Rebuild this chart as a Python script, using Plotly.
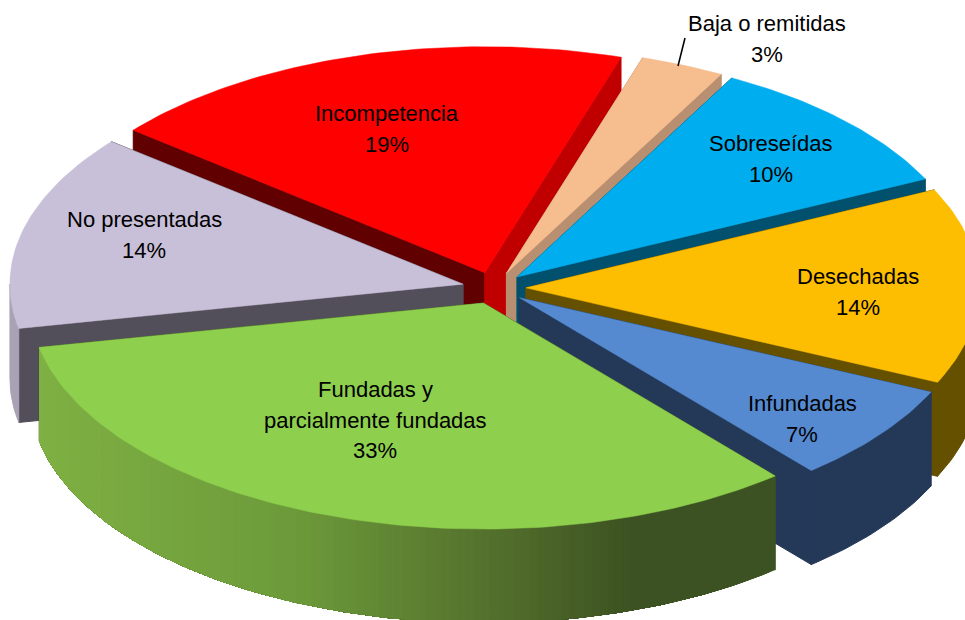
import math
import plotly.graph_objects as go

# --- data ---
CATEGORIES = ["Baja o remitidas", "Sobreseídas", "Desechadas", "Infundadas",
              "Fundadas y|parcialmente fundadas", "No presentadas", "Incompetencia"]
VALUES = [3, 10, 14, 7, 33, 14, 19]
TOP_COLORS = ["#f6bd8f", "#00aeef", "#fdbd00", "#558ad1", "#8ecf4e", "#c8bfd8", "#ff0000"]
LEFT_WALL = ["#b88f70", "#00506e", "#655000", "#243858", "#3c5222", "#534f5a", "#600000"]
RIGHT_WALL = ["#b88f70", "#00506e", "#655000", "#243858", "#3c5222", "#534f5a", "#c00000"]
OUTER_WALL = ["#b88f70", "#00506e", "#655000", "#243858", None, "#a9a2b5", "#c00000"]
PAINT_ORDER = [6, 0, 1, 5, 2, 3, 4]
LABEL_XY = [(767, 39), (771, 159), (858, 292), (802, 419), (375, 420), (144, 235), (387, 129)]

# --- projection ---
W, H = 965, 620
CX, CY = 494, 288
RX, RY = 453, 226
PULL = 32
DEPTH = 94
START = 17.5
LINE_STEP = 30.5
GRAD_X = [40, 300, 500, 635, 778]
GRAD_C = [(127, 176, 67), (108, 154, 58), (83, 111, 44), (60, 82, 34), (60, 82, 34)]


def grad(x):
    for i in range(len(GRAD_X) - 1):
        if x <= GRAD_X[i + 1]:
            t = max(0, (x - GRAD_X[i]) / (GRAD_X[i + 1] - GRAD_X[i]))
            c = [round(a + (b - a) * t) for a, b in zip(GRAD_C[i], GRAD_C[i + 1])]
            return "rgb(%d,%d,%d)" % tuple(c)
    return "rgb(%d,%d,%d)" % GRAD_C[-1]


def rim(ax, ay, deg):
    r = math.radians(deg)
    return ax + RX * math.sin(r), ay - RY * math.cos(r)


def poly(fig, pts, color, lw=1.0):
    xs = [p[0] for p in pts] + [pts[0][0]]
    ys = [p[1] for p in pts] + [pts[0][1]]
    fig.add_trace(go.Scatter(x=xs, y=ys, mode="lines", fill="toself", fillcolor=color,
                             line=dict(color=color, width=lw), hoverinfo="skip", showlegend=False))


fig = go.Figure()
total = sum(VALUES)
angles = []
a = START
for v in VALUES:
    angles.append((a, a + 360 * v / total))
    a += 360 * v / total

for i in PAINT_ORDER:
    a0, a1 = angles[i]
    m = math.radians((a0 + a1) / 2)
    ax = CX + PULL * math.sin(m)
    ay = CY - PULL * RY / RX * math.cos(m)
    n = max(4, int(a1 - a0))
    arc = [rim(ax, ay, a0 + (a1 - a0) * k / n) for k in range(n + 1)]
    # radial walls
    p0, p1 = arc[0], arc[-1]
    poly(fig, [(ax, ay), p0, (p0[0], p0[1] + DEPTH), (ax, ay + DEPTH)], LEFT_WALL[i])
    poly(fig, [(ax, ay), p1, (p1[0], p1[1] + DEPTH), (ax, ay + DEPTH)], RIGHT_WALL[i])
    # outer wall (front half only)
    f0, f1 = max(a0, 90), min(a1, 270)
    if f1 > f0:
        steps = max(2, int(f1 - f0))
        front = [rim(ax, ay, f0 + (f1 - f0) * k / steps) for k in range(steps + 1)]
        lower = [(x, y + DEPTH) for x, y in front]
        if OUTER_WALL[i]:
            poly(fig, front + lower[::-1], OUTER_WALL[i])
        else:
            # gradient: every band runs to the end of the arc, the next one paints over it
            for k in range(steps):
                poly(fig, front[k:] + lower[k:][::-1], grad(front[k][0]), lw=0)
    # top face
    poly(fig, [(ax, ay)] + arc, TOP_COLORS[i], lw=0.5)

# leader line for the small slice
fig.add_trace(go.Scatter(x=[685, 678], y=[38, 66], mode="lines", line=dict(color="#000", width=1.6),
                         hoverinfo="skip", showlegend=False))

for name, v, (lx, ly) in zip(CATEGORIES, VALUES, LABEL_XY):
    lines = name.split("|") + [f"{v}%"]
    for j, line in enumerate(lines):
        fig.add_annotation(x=lx, y=ly + (j - (len(lines) - 1) / 2) * LINE_STEP, xref="x", yref="y",
                           text=line, showarrow=False,
                           font=dict(family="Liberation Sans", size=22, color="#000"),
                           align="center", xanchor="center", yanchor="middle")

fig.update_layout(width=W, height=H, margin=dict(l=0, r=0, t=0, b=0), autosize=False,
                  paper_bgcolor="white", plot_bgcolor="white", showlegend=False,
                  xaxis=dict(range=[0, W], visible=False, fixedrange=True),
                  yaxis=dict(range=[H, 0], visible=False, fixedrange=True))
fig.write_html("out.html", config={"displayModeBar": False},
               post_script="document.body.style.margin='0';document.documentElement.style.overflow='hidden';")
